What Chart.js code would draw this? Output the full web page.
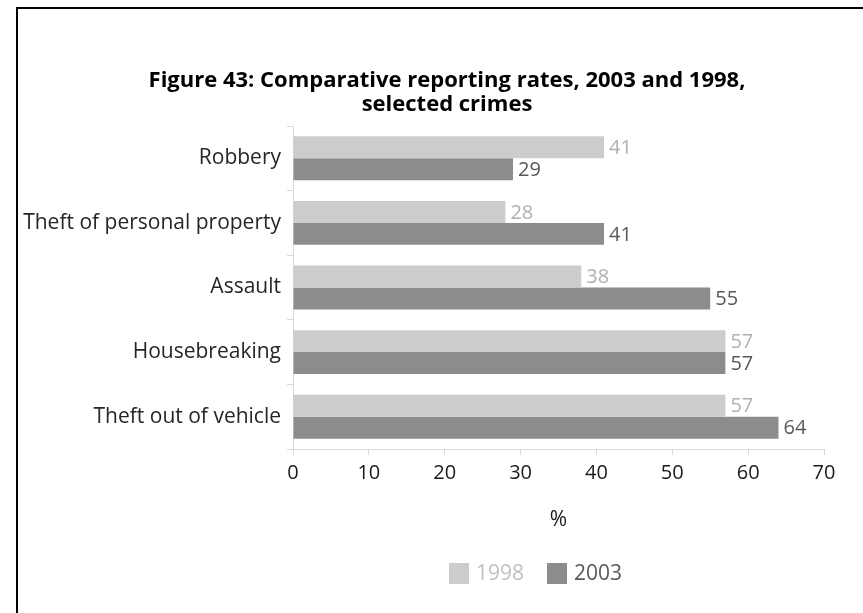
<!DOCTYPE html>
<html>
<head>
<meta charset="utf-8">
<script src="https://cdn.jsdelivr.net/npm/chart.js@4"></script>
<style>
    body { margin: 0; background: #fff; }
    #wrap { position: relative; width: 863px; height: 613px; }
    #frame { position: absolute; left: 16px; top: 7px; right: 0; bottom: 0; border-left: 2px solid #000; border-top: 2px solid #000; }
    canvas { position: absolute; left: 0; top: 0; }
</style>
</head>
<body>
<div id="wrap">
    <div id="frame"></div>
    <canvas id="chart" width="863" height="613"></canvas>
</div>
<script>
const categories = ["Robbery", "Theft of personal property", "Assault", "Housebreaking", "Theft out of vehicle"];
const seriesNames = ["1998", "2003"];
const values1998 = [41, 28, 38, 57, 57];
const values2003 = [29, 41, 55, 57, 64];
const xTicks = [0, 10, 20, 30, 40, 50, 60, 70];
const titleLines = ["Figure 43: Comparative reporting rates, 2003 and 1998,", "selected crimes"];

const FONT = "'Open Sans', sans-serif";
const barColors = ["#cccccc", "#8c8c8c"];
const labelColors = ["#b0b0b0", "#595959"];
const legendTextColors = ["#c0c0c0", "#595959"];

// title is centred a bit left of the plot, so draw it by hand
const figureTitle = {
    id: "figureTitle",
    afterDraw(chart) {
        const ctx = chart.ctx;
        ctx.save();
        ctx.font = "bold 22px " + FONT;
        ctx.fillStyle = "#000";
        ctx.textAlign = "center";
        ctx.textBaseline = "middle";
        titleLines.forEach((line, i) => ctx.fillText(line, 447, 81 + i * 24));
        ctx.restore();
    }
};

// value labels at the end of each bar
const valueLabels = {
    id: "valueLabels",
    afterDatasetsDraw(chart) {
        const ctx = chart.ctx;
        ctx.save();
        ctx.font = "20px " + FONT;
        ctx.textAlign = "left";
        ctx.textBaseline = "middle";
        chart.data.datasets.forEach((ds, i) => {
            chart.getDatasetMeta(i).data.forEach((bar, j) => {
                ctx.fillStyle = labelColors[i];
                ctx.fillText(ds.data[j], bar.x + 5, bar.y + 1);
            });
        });
        ctx.restore();
    }
};

// legend drawn below the axis title
const bottomLegend = {
    id: "bottomLegend",
    afterDraw(chart) {
        const ctx = chart.ctx;
        ctx.save();
        ctx.font = "21px " + FONT;
        ctx.textBaseline = "middle";
        const y = 573;
        const xs = [449, 547];
        seriesNames.forEach((name, i) => {
            ctx.fillStyle = barColors[i];
            ctx.fillRect(xs[i], y - 10, 20, 21);
            ctx.fillStyle = legendTextColors[i];
            ctx.fillText(name, xs[i] + 27, y + 1);
        });
        ctx.restore();
    }
};

new Chart(document.getElementById("chart"), {
    type: "bar",
    data: {
        labels: categories,
        datasets: [
            { label: seriesNames[0], data: values1998, backgroundColor: barColors[0] },
            { label: seriesNames[1], data: values2003, backgroundColor: barColors[1] }
        ]
    },
    options: {
        indexAxis: "y",
        responsive: false,
        animation: false,
        categoryPercentage: 0.68,
        barPercentage: 1,
        layout: { padding: { left: 0, right: 39, top: 126, bottom: 76 } },
        plugins: {
            legend: { display: false },
            tooltip: { enabled: false },
            title: { display: false }
        },
        scales: {
            x: {
                min: 0,
                max: 70,
                afterBuildTicks: s => { s.ticks = xTicks.map(v => ({ value: v })); },
                afterFit: s => { s.height = 88; },
                border: { color: "#d9d9d9" },
                grid: { drawOnChartArea: false, color: "#d9d9d9", tickLength: 6 },
                ticks: { color: "#1a1a1a", font: { family: FONT, size: 20 }, padding: 6 },
                title: { display: true, text: "%", color: "#1a1a1a", font: { family: FONT, size: 21 }, padding: { top: 4, bottom: 4 } }
            },
            y: {
                afterFit: s => { s.width = 293; },
                border: { color: "#d9d9d9" },
                grid: { drawOnChartArea: false, color: "#d9d9d9", tickLength: 6, offset: true },
                ticks: { color: "#262626", font: { family: FONT, size: 21 }, padding: 6 }
            }
        }
    },
    plugins: [figureTitle, valueLabels, bottomLegend]
});
</script>
</body>
</html>
